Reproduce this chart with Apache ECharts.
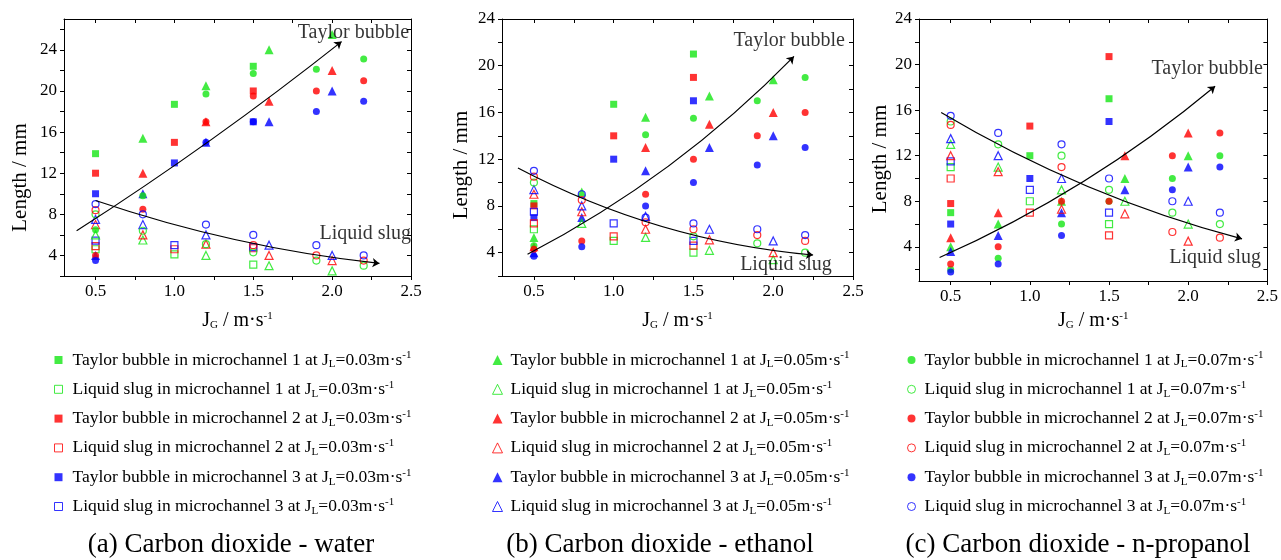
<!DOCTYPE html>
<html>
<head>
<meta charset="utf-8">
<script src="https://cdn.jsdelivr.net/npm/echarts@6/dist/echarts.min.js"></script>
<style>
html, body { margin: 0; background: #fff; }
#chart { width: 1281px; height: 560px; }
</style>
</head>
<body>
<div id="chart"></div>
<script>
// J_G values where each marker family was measured
const jgSquare = [0.5, 1.0, 1.5];            // J_L = 0.03
const jgTriangle = [0.5, 0.8, 1.2, 1.6, 2.0]; // J_L = 0.05
const jgCircle = [0.5, 0.8, 1.2, 1.5, 1.9, 2.2]; // J_L = 0.07

// (a) carbon dioxide - water, rows = microchannel 1, 2, 3
const waterSquareBubble = [[13.9, 18.7, 22.4], [12.0, 15.0, 20.0], [10.0, 13.0, 17.0]];
const waterSquareSlug = [[4.6, 4.1, 3.1], [4.9, 4.6, 4.7], [5.45, 5.0, 4.8]];
const waterTriangleBubble = [[null, 15.4, 20.5, 24.0, 25.5], [null, 12.0, 17.0, 19.0, 22.0], [4.0, 10.0, 15.0, 17.0, 20.0]];
const waterTriangleSlug = [[6.0, 5.5, 4.0, 3.0, 2.5], [7.0, 6.0, 5.1, 4.0, 3.5], [7.5, 7.0, 6.0, 5.0, 4.0]];
const waterCircleBubble = [[6.5, 9.8, 19.7, 21.7, 22.1, 23.1], [4.0, 8.5, 17.0, 19.5, 20.0, 21.0], [3.5, null, 15.0, 17.0, 18.0, 19.0]];
const waterCircleSlug = [[8.0, 6.4, 5.1, 4.3, 3.5, 3.0], [8.4, null, null, 5.0, 4.0, 3.5], [9.0, 8.0, 7.0, 6.0, 5.0, 4.0]];

// (b) carbon dioxide - ethanol
const ethanolSquareBubble = [[8.2, 16.7, 21.0], [8.0, 14.0, 19.0], [7.0, 12.0, 17.0]];
const ethanolSquareSlug = [[6.0, 5.0, 4.0], [6.5, 5.4, 4.6], [7.5, 6.5, 5.0]];
const ethanolTriangleBubble = [[5.3, 9.2, 15.6, 17.4, 18.8], [4.5, null, 13.0, 15.0, 16.0], [4.0, 7.0, 11.0, 13.0, 14.0]];
const ethanolTriangleSlug = [[null, 6.5, 5.3, 4.2, 3.4], [9.0, 7.5, 6.0, 5.1, 4.0], [9.4, 8.0, 7.1, 6.0, 5.0]];
const ethanolCircleBubble = [[4.6, null, 14.1, 15.5, 17.0, 19.0], [4.3, 5.0, 9.0, 12.0, 14.0, 16.0], [3.7, 4.5, 8.0, 10.0, 11.5, 13.0]];
const ethanolCircleSlug = [[10.0, null, null, 5.4, 4.8, 4.0], [10.5, 8.5, 6.6, 6.0, 5.5, 5.0], [11.0, 9.0, 7.0, 6.5, 6.0, 5.5]];

// (c) carbon dioxide - n-propanol
const propanolSquareBubble = [[7.0, 12.0, 17.0], [7.8, 14.6, 20.7], [6.0, 10.0, 15.0]];
const propanolSquareSlug = [[11.0, 8.0, 6.0], [10.0, 7.0, 5.0], [11.5, 9.0, 7.0]];
const propanolTriangleBubble = [[4.0, 6.0, 8.0, 10.0, 12.0], [4.8, 7.0, null, 12.0, 14.0], [3.6, 5.0, 7.0, 9.0, 11.0]];
const propanolTriangleSlug = [[13.0, 11.0, 9.0, 8.0, 6.0], [12.0, 10.6, 7.3, 6.9, 4.5], [13.5, 12.0, 10.0, null, 8.0]];
const propanolCircleBubble = [[2.0, 3.0, 6.0, 8.0, 10.0, 12.0], [2.5, 4.0, 8.0, 8.0, 12.0, 14.0], [1.8, 2.5, 5.0, null, 9.0, 11.0]];
const propanolCircleSlug = [[15.0, 13.0, 12.0, 9.0, 7.0, 6.0], [14.7, null, 11.0, null, 5.3, 4.8], [15.5, 14.0, 13.0, 10.0, 8.0, 7.0]];

// trend arrows: [start, end] in (J_G, length), and their bend
const bubbleTrend = [[[0.38, 6.4], [2.06, 24.8]], [[0.46, 3.86], [2.13, 20.8]], [[0.43, 3.06], [2.17, 18.1]]];
const slugTrend = [[[0.50, 9.34], [2.30, 3.22]], [[0.40, 11.25], [2.25, 3.8]], [[0.44, 15.8], [2.34, 4.7]]];
const bubbleBend = [-0.025, -0.08, -0.07];
const slugBend = [-0.055, -0.1, -0.07];
const bubbleLabelAt = [[2.135, 25.65], [2.10, 22.1], [2.12, 19.6]];
const slugLabelAt = [[2.21, 6.1], [2.08, 3.0], [2.17, 3.06]];

// axes
const xLabelValues = [0.5, 1.0, 1.5, 2.0, 2.5];
const xTickValues = [0.5, 0.75, 1.0, 1.25, 1.5, 1.75, 2.0, 2.25, 2.5];
const yLabelValues = [4, 8, 12, 16, 20, 24];
const yTickValuesA = [2, 4, 6, 8, 10, 12, 14, 16, 18, 20, 22, 24, 26];
const yTickValuesBC = [2, 4, 6, 8, 10, 12, 14, 16, 18, 20, 22, 24];
const yRanges = [[2, 27], [2, 24], [1, 24]];
const panelTitles = ['(a) Carbon dioxide - water', '(b) Carbon dioxide - ethanol', '(c) Carbon dioxide - n-propanol'];

const serif = 'Liberation Serif';
const colors = ['#14e614', '#ff0000', '#0000ff'];
const grids = [
    { left: 64, top: 19, width: 347, height: 257 },
    { left: 502, top: 19, width: 351, height: 257 },
    { left: 919, top: 19, width: 351, height: 262 }
];

const shapes = [
    { jg: jgSquare, symbol: 'rect', jl: '0.03', size: 7, hollowSize: 7 },
    { jg: jgTriangle, symbol: 'triangle', jl: '0.05', size: 9, hollowSize: 8 },
    { jg: jgCircle, symbol: 'circle', jl: '0.07', size: 7, hollowSize: 7 }
];
const panelData = [
    [[waterSquareBubble, waterSquareSlug], [waterTriangleBubble, waterTriangleSlug], [waterCircleBubble, waterCircleSlug]],
    [[ethanolSquareBubble, ethanolSquareSlug], [ethanolTriangleBubble, ethanolTriangleSlug], [ethanolCircleBubble, ethanolCircleSlug]],
    [[propanolSquareBubble, propanolSquareSlug], [propanolTriangleBubble, propanolTriangleSlug], [propanolCircleBubble, propanolCircleSlug]]
];

function seriesName(kind, ch, jl) {
    return (kind === 0 ? 'Taylor bubble' : 'Liquid slug') + ' in microchannel ' + ch + ' at JL=' + jl + 'm·s-1';
}

const richSub = {
    sub: { fontFamily: serif, fontSize: 11, verticalAlign: 'bottom', color: '#000' },
    sup: { fontFamily: serif, fontSize: 11, verticalAlign: 'top', color: '#000' }
};

const series = [];
for (let p = 0; p < 3; p++) {
    shapes.forEach((sh, s) => {
        for (let kind = 0; kind < 2; kind++) {
            for (let c = 0; c < 3; c++) {
                const vals = panelData[p][s][kind][c];
                const data = [];
                sh.jg.forEach((x, i) => { if (vals[i] != null) data.push([x, vals[i]]); });
                series.push({
                    type: 'scatter',
                    name: seriesName(kind, c + 1, sh.jl),
                    xAxisIndex: p,
                    yAxisIndex: p,
                    symbol: sh.symbol,
                    symbolSize: kind === 0 ? sh.size : sh.hollowSize,
                    itemStyle: kind === 0
                        ? { color: colors[c], borderWidth: 0 }
                        : { color: 'rgba(255,255,255,0)', borderColor: colors[c], borderWidth: 1.2 },
                    data: data
                });
            }
        }
    });
    series.push({
        type: 'lines',
        coordinateSystem: 'cartesian2d',
        xAxisIndex: p,
        yAxisIndex: p,
        symbol: ['none', 'arrow'],
        symbolSize: 7,
        lineStyle: { color: '#000', width: 1.2, curveness: bubbleBend[p], opacity: 1 },
        data: [{ coords: bubbleTrend[p] }],
        z: 5
    });
    series.push({
        type: 'lines',
        coordinateSystem: 'cartesian2d',
        xAxisIndex: p,
        yAxisIndex: p,
        symbol: ['none', 'arrow'],
        symbolSize: 7,
        lineStyle: { color: '#000', width: 1.2, curveness: slugBend[p], opacity: 1 },
        data: [{ coords: slugTrend[p] }],
        z: 5
    });
    series.push({
        type: 'scatter',
        name: 'trend labels ' + p,
        xAxisIndex: p,
        yAxisIndex: p,
        symbolSize: 0,
        label: {
            show: true,
            position: 'inside',
            formatter: (d) => d.name,
            fontFamily: serif,
            fontSize: 20,
            color: '#000'
        },
        data: [
            { name: 'Taylor bubble', value: bubbleLabelAt[p] },
            { name: 'Liquid slug', value: slugLabelAt[p] }
        ],
        z: 6
    });
}

const xAxes = [];
const yAxes = [];
const yNamePad = [60, 35, 18];
const yNameGap = [33, 30, 27];
const xNameGap = [35, 35, 30];
for (let p = 0; p < 3; p++) {
    xAxes.push({
        type: 'value', gridIndex: p, min: 0.3, max: 2.5, position: 'bottom',
        name: '{t|J}{sub|G}{t| / m·s}{sup|-1}', nameLocation: 'middle', nameGap: xNameGap[p],
        nameTextStyle: { rich: Object.assign({ t: { fontFamily: serif, fontSize: 20, color: '#000' } }, richSub) },
        axisLine: { lineStyle: { color: '#000' } },
        axisTick: { inside: false, length: 4, customValues: xTickValues, lineStyle: { color: '#000' } },
        axisLabel: { customValues: xLabelValues, formatter: (v) => v.toFixed(1), fontFamily: serif, fontSize: 17, color: '#000', margin: 7 },
        splitLine: { show: false }
    });
    yAxes.push({
        type: 'value', gridIndex: p, min: yRanges[p][0], max: yRanges[p][1], position: 'left',
        name: 'Length / mm', nameLocation: 'middle', nameGap: yNameGap[p],
        nameTextStyle: { fontFamily: serif, fontSize: 21, color: '#000', padding: [0, yNamePad[p], 0, 0] },
        axisLine: { show: true, lineStyle: { color: '#000' } },
        axisTick: { show: true, inside: false, length: 4, customValues: p === 0 ? yTickValuesA : yTickValuesBC, lineStyle: { color: '#000' } },
        axisLabel: { customValues: yLabelValues, fontFamily: serif, fontSize: 17, color: '#000', margin: 7 },
        splitLine: { show: false }
    });
}
// mirrored top / right axes closing each box
for (let p = 0; p < 3; p++) {
    xAxes.push({
        type: 'value', gridIndex: p, min: 0.3, max: 2.5, position: 'top',
        axisLine: { lineStyle: { color: '#000' } },
        axisTick: { inside: true, length: 4, customValues: xTickValues, lineStyle: { color: '#000' } },
        axisLabel: { show: false },
        splitLine: { show: false }
    });
    yAxes.push({
        type: 'value', gridIndex: p, min: yRanges[p][0], max: yRanges[p][1], position: 'right',
        axisLine: { show: true, lineStyle: { color: '#000' } },
        axisTick: { show: true, inside: true, length: 4, customValues: p === 0 ? yTickValuesA : yTickValuesBC, lineStyle: { color: '#000' } },
        axisLabel: { show: false },
        splitLine: { show: false }
    });
}

function legendText(name) {
    return name.replace('JL', 'J{sub|L}').replace('s-1', 's{sup|-1}');
}
const legendLeft = [49, 487, 902];
const legendIcon = [8, 10, 8];
const legendPad = [5, 3, 4];
const legends = shapes.map((sh, s) => {
    const names = [];
    for (let c = 1; c <= 3; c++) {
        names.push(seriesName(0, c, sh.jl));
        names.push(seriesName(1, c, sh.jl));
    }
    return {
        orient: 'vertical',
        left: legendLeft[s],
        top: 345,
        itemWidth: legendIcon[s],
        itemHeight: legendIcon[s],
        itemGap: 9.3,
        selectedMode: false,
        data: names,
        formatter: legendText,
        itemStyle: { borderWidth: 1 },
        textStyle: {
            fontFamily: serif, fontSize: 17.5, color: '#000', lineHeight: 20,
            padding: [0, 0, 0, legendPad[s]],
            rich: richSub
        }
    };
});

const chart = echarts.init(document.getElementById('chart'));
chart.setOption({
    animation: false,
    backgroundColor: '#fff',
    textStyle: { fontFamily: serif },
    grid: grids,
    xAxis: xAxes,
    yAxis: yAxes,
    legend: legends,
    series: series,
    graphic: panelTitles.map((t, i) => ({
        type: 'text',
        x: [231, 660, 1078][i],
        y: 545,
        style: { text: t, fontFamily: serif, fontSize: 27, fill: '#000', align: 'center', verticalAlign: 'middle' }
    }))
});
</script>
</body>
</html>
